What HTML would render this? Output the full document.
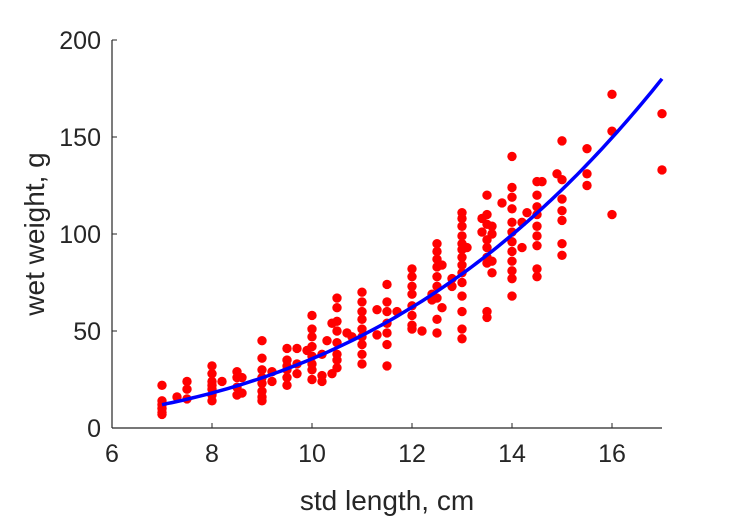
<!DOCTYPE html>
<html><head><meta charset="utf-8"><style>
body{margin:0;background:#fff}
svg text{font-family:"Liberation Sans",sans-serif;fill:#262626}
</style></head><body>
<svg width="729" height="521" viewBox="0 0 729 521" xmlns="http://www.w3.org/2000/svg">
<g id="axes"></g>
<g id="marks"></g>
<text x="387" y="510" font-size="28" text-anchor="middle">std length, cm</text>
<text transform="translate(44,234) rotate(-90)" font-size="28" text-anchor="middle">wet weight, g</text>
</svg>
<script>
const xTicks=[6,8,10,12,14,16];
const yTicks=[0,50,100,150,200];
const fitParams=[0.0318,3.05];
const fitRange=[7,17];
const pointCols=[
[7,[22,14,12,10,8,7]],[7.3,[16]],[7.5,[24,20,15]],[8,[32,28,24,20,17,14,22]],[8.2,[24]],
[8.5,[29,26,21,17]],[8.6,[26,18]],[9,[45,36,30,26,23,19,16,14]],[9.2,[29,24]],
[9.5,[41,35,32,30,26,22]],[9.7,[41,33,28]],[10,[58,51,47,42,37,33,30,25]],[9.9,[40]],
[10.2,[38,27,24]],[10.3,[45]],[10.5,[67,62,55,50,44,38,35,31]],[10.4,[54,28]],[10.7,[49]],[10.8,[47]],
[11,[70,65,60,56,51,47,43,38,33]],[11.3,[61,48]],[11.5,[74,65,60,54,49,43,32]],[11.7,[60]],
[12,[82,78,73,69,63,58,53,51]],[12.2,[50]],[12.4,[69,66]],[12.5,[95,91,87,83,78,73,67,56,49]],
[12.6,[84,62]],[12.8,[77,73]],[13,[111,108,104,99,95,92,88,84,80,75,68,60,51,46]],[13.1,[93]],
[13.4,[108,101]],[13.5,[120,110,105,97,93,88,85,60,57]],[13.6,[104,100,86,80]],[13.8,[116]],
[14,[140,124,119,113,106,101,96,91,86,81,77,68]],[14.2,[106,93]],[14.3,[111]],
[14.5,[127,120,114,110,104,99,94,82,78]],[14.6,[127]],[14.9,[131]],[15,[148,128,118,112,107,95,89]],
[15.5,[144,131,125]],[16,[172,153,110]],[17,[162,133]]
];
const NS="http://www.w3.org/2000/svg";
const X=v=>112+(v-6)*50, Y=v=>428-v*1.94;
const ax=document.getElementById('axes'), mk=document.getElementById('marks');
function el(t,a,p){const e=document.createElementNS(NS,t);for(const k in a)e.setAttribute(k,a[k]);p.appendChild(e);return e;}
const xl=el('line',{x1:112,y1:428,x2:662,y2:428,stroke:'#262626','stroke-width':1.2},ax);


const yl=el('line',{x1:112,y1:40,x2:112,y2:428,stroke:'#262626','stroke-width':1.2},ax);


xTicks.forEach(t=>{
 el('line',{x1:X(t),y1:428,x2:X(t),y2:423,stroke:'#262626'},ax);
 const tx=el('text',{x:X(t),y:462,'font-size':25,'text-anchor':'middle'},ax);tx.textContent=t;
 
 
});
yTicks.forEach(t=>{
 el('line',{x1:112,y1:Y(t),x2:117,y2:Y(t),stroke:'#262626'},ax);
 const tx=el('text',{x:101,y:Y(t)+9,'font-size':25,'text-anchor':'end'},ax);tx.textContent=t;
 
 
});
pointCols.forEach(([x,ys])=>ys.forEach(y=>{
 const c=el('circle',{cx:X(x),cy:Y(y),r:4.7,fill:'#ff0000'},mk);
 
 
}));
let d='';
for(let i=0;i<=100;i++){const x=fitRange[0]+(fitRange[1]-fitRange[0])*i/100;const y=fitParams[0]*Math.pow(x,fitParams[1]);d+=(i?'L':'M')+X(x).toFixed(1)+','+Y(y).toFixed(1);}
const fl=el('path',{d:d,fill:'none',stroke:'#0000ff','stroke-width':3.5},mk);


</script>
</body></html>
